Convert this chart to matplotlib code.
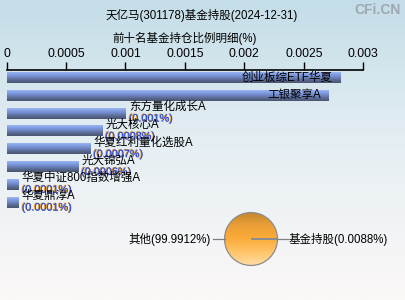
import numpy as np
import matplotlib
matplotlib.use('Agg')
import matplotlib.pyplot as plt
from matplotlib.colors import LinearSegmentedColormap
import matplotlib.patheffects as pe

plt.rcParams['font.family'] = ['Liberation Sans', 'Noto Sans CJK SC']

# 数据
title = '天亿马(301178)基金持股(2024-12-31)'
subtitle = '前十名基金持仓比例明细(%)'
funds = ['创业板综ETF华夏', '工银聚享A', '东方量化成长A', '光大核心A',
         '华夏红利量化选股A', '光大锦弘A', '华夏中证800指数增强A', '华夏鼎淳A']
ratios = [0.0028, 0.0027, 0.001, 0.0008, 0.0007, 0.0006, 0.0001, 0.0001]
ticks = [0, 0.0005, 0.001, 0.0015, 0.002, 0.0025, 0.003]
tick_labels = ['0', '0.0005', '0.001', '0.0015', '0.002', '0.0025', '0.003']
pie_labels = ['其他', '基金持股']
pie_values = [99.9912, 0.0088]

W, H = 405, 300
fig = plt.figure(figsize=(W / 100, H / 100), dpi=100)


def box(x0, y0, x1, y1):
    # 像素 -> figure 坐标
    return [x0 / W, 1 - y1 / H, (x1 - x0) / W, (y1 - y0) / H]


# 背景渐变
bg = fig.add_axes([0, 0, 1, 1], zorder=-10)
bg_cmap = LinearSegmentedColormap.from_list('bg', ['#c4dde8', '#e6eff3', '#fcf8f8'])
bg.imshow(np.linspace(0, 1, 256).reshape(-1, 1), aspect='auto', cmap=bg_cmap,
          extent=[0, 1, 0, 1], origin='upper')
bg.axis('off')

fig.text(202 / W, 1 - 15.5 / H, title, ha='center', va='center', fontsize=8.3)
fig.text(185 / W, 1 - 38 / H, subtitle, ha='center', va='center', fontsize=8.3)
fig.text(401 / W, 1 - 10 / H, 'CFi.CN', ha='right', va='center', fontsize=10,
         fontweight='bold', color='#9ea8b0')

# 条形图
n = len(funds)
step = 17.8
ax = fig.add_axes(box(6.5, 70, 363.3, 70 + n * step))
ax.patch.set_alpha(0)
h = 0.62
y = np.arange(n)
bars = ax.barh(y, ratios, height=h, color='none', edgecolor='none')
bar_cmap = LinearSegmentedColormap.from_list(
    'bar', ['#a6c0fa', '#86a2e6', '#7088c8', '#5a6a92', '#4a5470'])
grad = np.linspace(0, 1, 64).reshape(-1, 1)
for b, v, i in zip(bars, ratios, y):
    im = ax.imshow(grad, aspect='auto', cmap=bar_cmap, origin='upper',
                   extent=[0, v, i + h / 2, i - h / 2], zorder=2)
    im.set_clip_path(b)

ax.set_xlim(0, 0.003)
ax.set_ylim(n - 0.42, -0.42)
ax.xaxis.tick_top()
ax.set_xticks(ticks)
ax.set_xticklabels(tick_labels)
ax.tick_params(axis='x', direction='out', length=6, width=1, pad=1,
               labelsize=8.8, colors='black')
ax.set_yticks([])
for s in ['left', 'right', 'bottom']:
    ax.spines[s].set_visible(False)
ax.spines['top'].set_linewidth(1.2)

for i, (name, v) in enumerate(zip(funds, ratios)):
    if v >= 0.002:
        ax.annotate(name, (v, i), xytext=(-5, 0), textcoords='offset points',
                    ha='right', va='center', fontsize=8.3, zorder=5)
    else:
        ax.annotate(name, (v, i), xytext=(2.5, 4.5), textcoords='offset points',
                    ha='left', va='center', fontsize=8.3, zorder=5)
        ax.annotate('(%g%%)' % v, (v, i), xytext=(2.5, -4), textcoords='offset points',
                    ha='left', va='center', fontsize=7.8, color='#3a52c8', zorder=5,
                    path_effects=[pe.withSimplePatchShadow(offset=(-0.6, 0.4),
                                                           shadow_rgbFace='#e08a10', alpha=1),
                                  pe.Normal()])

# 饼图
cx, cy, r = 251, 239, 27
pax = fig.add_axes(box(cx - r, cy - r, cx + r, cy + r))
wedges, _ = pax.pie(pie_values, startangle=0, radius=1,
                    wedgeprops=dict(facecolor='none', edgecolor='#8c8c8c', linewidth=0.9))
pie_cmap = LinearSegmentedColormap.from_list(
    'pie', ['#c48530', '#eaa036', '#fbab3a', '#ffc467', '#ffdca0'])
for w in wedges:
    im = pax.imshow(grad, aspect='auto', cmap=pie_cmap, origin='upper',
                    extent=[-1, 1, -1, 1], zorder=0)
    im.set_clip_path(w)
pax.set_xlim(-1.02, 1.02)
pax.set_ylim(-1.02, 1.02)
pax.axis('off')

pax.plot([-1.0, -1.45], [0, 0], color='#808080', lw=0.9, clip_on=False)
pax.plot([1.0, 1.4], [0, 0], color='#808080', lw=0.9, clip_on=False)
pax.text(-1.52, 0, '%s(%g%%)' % (pie_labels[0], pie_values[0]), ha='right', va='center',
         fontsize=8.3, clip_on=False)
pax.text(1.42, 0, '%s(%g%%)' % (pie_labels[1], pie_values[1]), ha='left', va='center',
         fontsize=8.3, clip_on=False)

fig.savefig('out.png', dpi=100)
